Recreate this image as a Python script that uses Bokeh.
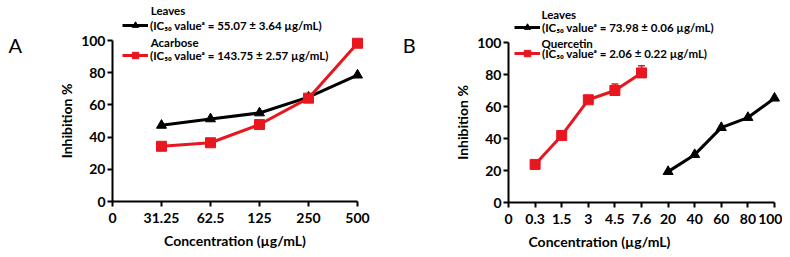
from bokeh.plotting import figure
from bokeh.models import (Legend, LegendItem, Label, Whisker, ColumnDataSource,
                          FixedTicker, TeeHead, Range1d)
from bokeh.layouts import row
from bokeh.embed import file_html
from bokeh.resources import INLINE

# ---------------- data ----------------
a_ticks = ["0", "31.25", "62.5", "125", "250", "500"]
a_conc = ["31.25", "62.5", "125", "250", "500"]
a_leaves = [47.3, 51.3, 55.0, 64.8, 78.5]
a_acarbose = [34.3, 36.5, 47.8, 64.2, 98.3]

b_ticks = ["0", "0.3", "1.5", "3", "4.5", "7.6", "20", "40", "60", "80", "100"]
b_quercetin_conc = ["0.3", "1.5", "3", "4.5", "7.6"]
b_quercetin = [23.8, 41.9, 64.2, 70.0, 81.0]
b_quercetin_err = [1.0, 1.5, 1.0, 4.0, 4.5]
b_leaves_conc = ["20", "40", "60", "80", "100"]
b_leaves = [19.3, 29.9, 46.8, 53.1, 65.2]

y_ticks = [0, 20, 40, 60, 80, 100]

x_title = "Concentration (\u00b5g/mL)"
y_title = "Inhibition %"
a_legend = [("Leaves", "(IC\u2085\u2080 value\u1d43 = 55.07 \u00b1 3.64 \u00b5g/mL)"),
            ("Acarbose", "(IC\u2085\u2080 value\u1d43 = 143.75 \u00b1 2.57 \u00b5g/mL)")]
b_legend = [("Leaves", "(IC\u2085\u2080 value\u1d43 = 73.98 \u00b1 0.06 \u00b5g/mL)"),
            ("Quercetin", "(IC\u2085\u2080 value\u1d43 = 2.06 \u00b1 0.22 \u00b5g/mL)")]

FONT = "Lato"
RED = "#E8161E"
BLACK = "#000000"
H = 249


def base_fig(ticks, width, xstart, xend, ybottom, ytop):
    p = figure(width=width, height=H, min_border_left=0, min_border_right=0,
               min_border_top=0, min_border_bottom=0, output_backend="svg",
               toolbar_location=None, x_range=Range1d(xstart, xend),
               y_range=Range1d(ybottom, ytop))
    p.outline_line_color = None
    p.xgrid.visible = False
    p.ygrid.visible = False
    p.xaxis.ticker = FixedTicker(ticks=list(range(len(ticks))))
    p.xaxis.major_label_overrides = {i: t for i, t in enumerate(ticks)}
    p.xaxis.bounds = (0, len(ticks) - 1)
    p.xaxis.fixed_location = 0
    p.yaxis.ticker = FixedTicker(ticks=y_ticks)
    p.yaxis.bounds = (0, 100)
    p.yaxis.fixed_location = 0
    for ax in (p.xaxis, p.yaxis):
        ax.axis_line_width = 2
        ax.axis_line_color = BLACK
        ax.major_tick_line_width = 2
        ax.major_tick_in = 0
        ax.major_tick_out = 5
        ax.minor_tick_line_color = None
        ax.major_label_text_font = FONT
        ax.major_label_text_font_style = "bold"
        ax.major_label_text_font_size = "14px"
        ax.major_label_text_color = BLACK
        ax.axis_label_text_font = FONT
        ax.axis_label_text_font_style = "bold"
        ax.axis_label_text_font_size = "14px"
        ax.axis_label_text_color = BLACK
    p.xaxis.major_label_standoff = 6
    p.yaxis.major_label_standoff = 2
    p.yaxis.axis_label = y_title
    p.xaxis.axis_label_standoff = 6
    p.yaxis.axis_label_standoff = 3
    return p


def series(p, ticks, conc, vals, color, marker, size):
    xs = [ticks.index(c) for c in conc]
    src = ColumnDataSource(dict(x=xs, y=vals))
    r1 = p.line("x", "y", source=src, line_color=color, line_width=3)
    r2 = p.scatter("x", "y", source=src, marker=marker, size=size,
                   fill_color=color, line_color=color)
    return [r1, r2]


def add_legend(p, items, entries, loc, spacing, head_x, head_ys, letter, letter_x, letter_y):
    leg = Legend(items=[LegendItem(label=e[1], renderers=r) for e, r in zip(entries, items)],
                 location=loc, orientation="vertical", padding=0, margin=0, spacing=spacing,
                 glyph_width=26, glyph_height=16, label_height=16, label_standoff=2,
                 border_line_color=None, background_fill_alpha=0,
                 label_text_font=FONT, label_text_font_style="bold",
                 label_text_font_size="11.5px", label_text_color=BLACK)
    p.add_layout(leg, "center")
    for (head, _), hy in zip(entries, head_ys):
        p.add_layout(Label(x=head_x, y=hy, text=head, text_font=FONT, text_font_style="bold",
                           text_font_size="11.5px", text_baseline="middle", text_color=BLACK))
    p.add_layout(Label(x=letter_x, y=letter_y, text=letter, text_font=FONT,
                       text_font_size="20px", text_baseline="middle", text_color=BLACK))


# ---------------- panel A ----------------
pa = base_fig(a_ticks, 395, -112 / 49, 283 / 49, -48 / 1.61, 201 / 1.61)
pa.xaxis.axis_label = x_title
ra_leaves = series(pa, a_ticks, a_conc, a_leaves, BLACK, "triangle", 10)
ra_acar = series(pa, a_ticks, a_conc, a_acarbose, RED, "square", 10)
add_legend(pa, [ra_leaves, ra_acar], a_legend, (122, 186), 14, 0.78, [118.6, 98.8],
           "A", -2.12, 97.5)

# ---------------- panel B ----------------
pb = base_fig(b_ticks, 387, -113 / 26.6, 274 / 26.6, -47 / 1.6, 202 / 1.6)
qx = [b_ticks.index(c) for c in b_quercetin_conc]
wsrc = ColumnDataSource(dict(x=qx, lo=b_quercetin,
                             hi=[v + e for v, e in zip(b_quercetin, b_quercetin_err)]))
pb.add_layout(Whisker(source=wsrc, base="x", lower="lo", upper="hi", line_color=RED,
                      line_width=1.5, level="underlay", lower_head=None,
                      upper_head=TeeHead(size=7, line_color=RED, line_width=1.5)))
rb_q = series(pb, b_ticks, b_quercetin_conc, b_quercetin, RED, "square", 10)
rb_l = series(pb, b_ticks, b_leaves_conc, b_leaves, BLACK, "triangle", 10)
add_legend(pb, [rb_l, rb_q], b_legend, (119, 188), 10, 1.24, [117.5, 99.4],
           "B", -3.98, 98.75)
pb.add_layout(Label(x=3.42, y=-24.4, text=x_title, text_font=FONT, text_font_style="bold",
                    text_font_size="14px", text_align="center", text_baseline="middle",
                    text_color=BLACK))

layout = row(pa, pb)
open("out.html", "w").write(file_html(layout, INLINE))
